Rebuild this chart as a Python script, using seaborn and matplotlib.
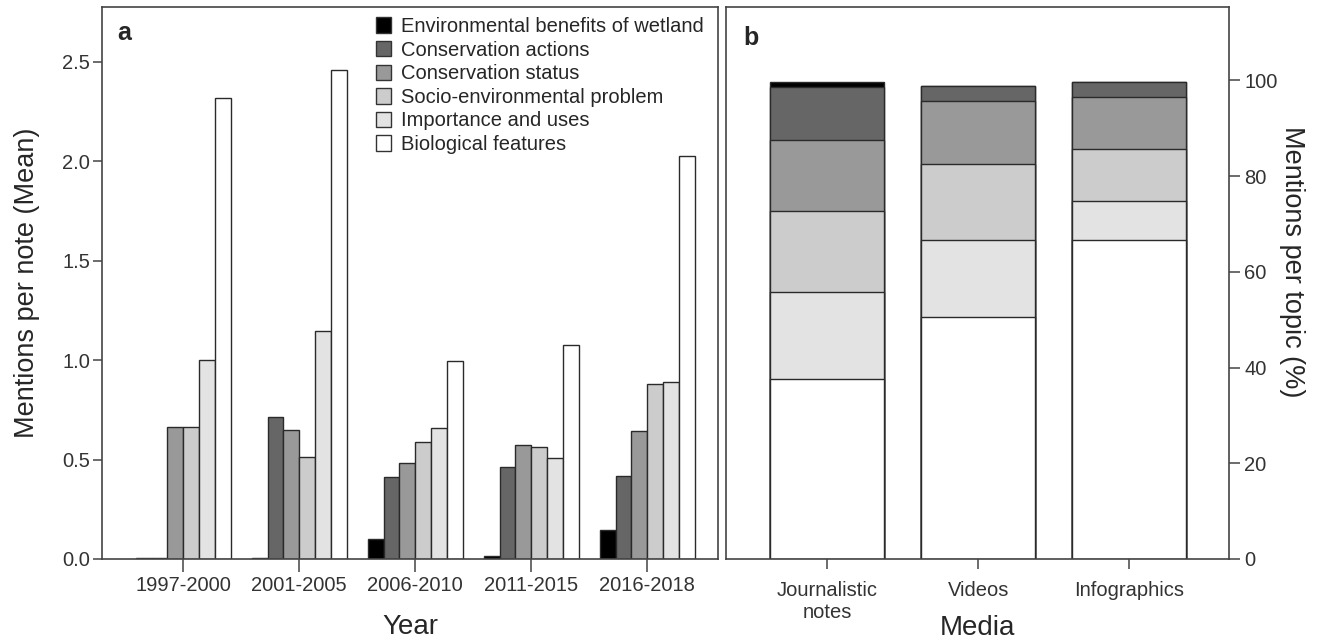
import numpy as np
import pandas as pd
import matplotlib
matplotlib.use("Agg")
import matplotlib.pyplot as plt
from matplotlib.patches import Patch
import seaborn as sns

# ---- data -------------------------------------------------------------
periods = ["1997-2000", "2001-2005", "2006-2010", "2011-2015", "2016-2018"]
topics = [
    "Environmental benefits of wetland",
    "Conservation actions",
    "Conservation status",
    "Socio-environmental problem",
    "Importance and uses",
    "Biological features",
]
topic_colors = ["#000000", "#666666", "#999999", "#cccccc", "#e3e3e3", "#ffffff"]

# mean mentions per note, by period (panel a)
env_benefits = [0.005, 0.005, 0.100, 0.017, 0.144]
cons_actions = [0.005, 0.715, 0.410, 0.465, 0.415]
cons_status = [0.665, 0.648, 0.485, 0.575, 0.642]
socio_problem = [0.665, 0.515, 0.590, 0.562, 0.878]
importance_uses = [1.000, 1.148, 0.660, 0.507, 0.889]
bio_features = [2.320, 2.456, 0.993, 1.075, 2.026]

# share of mentions per topic by media type, % (panel b)
media = ["Journalistic\nnotes", "Videos", "Infographics"]
pct_env_benefits = [1.1, 0.0, 0.0]
pct_cons_actions = [11.0, 3.2, 3.0]
pct_cons_status = [14.9, 13.0, 11.0]
pct_socio_problem = [16.9, 15.9, 10.9]
pct_importance_uses = [18.0, 16.1, 8.0]
pct_bio_features = [37.7, 50.6, 66.7]

# ---- style ------------------------------------------------------------
sns.set_style("ticks")
plt.rcParams["font.family"] = ["Liberation Sans", "DejaVu Sans"]
plt.rcParams["axes.edgecolor"] = "#444444"
plt.rcParams["axes.linewidth"] = 1.2
plt.rcParams["xtick.color"] = "#444444"
plt.rcParams["ytick.color"] = "#444444"
plt.rcParams["xtick.labelcolor"] = "#333333"
plt.rcParams["ytick.labelcolor"] = "#333333"

TICK_FS = 14.5
LABEL_FS = 19.5
EDGE = "#2a2a2a"

fig = plt.figure(figsize=(13.32, 6.39), dpi=100)
ax_a = fig.add_axes([0.0766, 0.1252, 0.4625, 0.8638])
ax_b = fig.add_axes([0.5450, 0.1252, 0.3776, 0.8638])

# ---- panel a: grouped bars ---------------------------------------------
series_a = [env_benefits, cons_actions, cons_status, socio_problem,
            importance_uses, bio_features]
df_a = pd.DataFrame({
    "period": np.repeat([periods], len(topics), axis=0).ravel(),
    "topic": np.repeat(topics, len(periods)),
    "mean": np.concatenate(series_a),
})
sns.barplot(data=df_a, x="period", y="mean", hue="topic",
            order=periods, hue_order=topics, palette=topic_colors,
            saturation=1, width=0.82, edgecolor=EDGE, linewidth=1.0,
            errorbar=None, legend=False, ax=ax_a)

ax_a.set_xlim(-0.70, 4.61)
ax_a.set_ylim(0, 2.775)
ax_a.set_yticks([0.0, 0.5, 1.0, 1.5, 2.0, 2.5])
ax_a.set_yticklabels(["0.0", "0.5", "1.0", "1.5", "2.0", "2.5"])
ax_a.tick_params(axis="x", length=9.5, width=1.1, pad=3, labelsize=TICK_FS)
ax_a.tick_params(axis="y", length=6.5, width=1.1, pad=2, labelsize=TICK_FS)
ax_a.set_xlabel("Year", fontsize=LABEL_FS + 0.5, labelpad=13.5)
ax_a.set_ylabel("Mentions per note (Mean)", fontsize=LABEL_FS, labelpad=16)
for side in ["top", "right", "left", "bottom"]:
    ax_a.spines[side].set_visible(True)

handles = [Patch(facecolor=c, edgecolor="#333333", linewidth=1.0, label=t)
           for c, t in zip(topic_colors, topics)]
ax_a.legend(handles=handles, loc="upper left", bbox_to_anchor=(0.445, 0.982),
            frameon=False, fontsize=TICK_FS, borderpad=0, borderaxespad=0,
            handlelength=0.75, handleheight=0.8, handletextpad=0.5,
            labelspacing=0.23)
ax_a.text(0.024, 0.975, "a", transform=ax_a.transAxes, fontsize=18,
          fontweight="bold", va="top", ha="left")

# ---- panel b: stacked percentage bars -----------------------------------
# stack from the bottom (biological features) upward
stack_series = [pct_bio_features, pct_importance_uses, pct_socio_problem,
                pct_cons_status, pct_cons_actions, pct_env_benefits]
stack_colors = topic_colors[::-1]
cumulative = np.cumsum(np.array(stack_series), axis=0)

# draw the tallest cumulative layer first so lower layers sit on top
for level in range(len(stack_series) - 1, -1, -1):
    df_b = pd.DataFrame({"media": media, "pct": cumulative[level]})
    sns.barplot(data=df_b, x="media", y="pct", order=media,
                color=stack_colors[level], saturation=1, width=0.755,
                edgecolor=EDGE, linewidth=1.0, errorbar=None, ax=ax_b)

ax_b.set_xlim(-0.67, 2.66)
ax_b.set_ylim(0, 115.3)
ax_b.yaxis.tick_right()
ax_b.yaxis.set_label_position("right")
ax_b.set_yticks([0, 20, 40, 60, 80, 100])
ax_b.tick_params(axis="x", length=7.5, width=1.1, pad=8, labelsize=TICK_FS)
ax_b.tick_params(axis="y", length=8, width=1.1, pad=3, labelsize=TICK_FS)
for lbl in ax_b.get_xticklabels():
    lbl.set_linespacing(1.2)
ax_b.set_xlabel("Media", fontsize=LABEL_FS + 0.5, labelpad=-5)
ax_b.set_ylabel("Mentions per topic (%)", fontsize=LABEL_FS, rotation=270)
ax_b.yaxis.set_label_coords(1.151, 0.538)
for side in ["top", "right", "left", "bottom"]:
    ax_b.spines[side].set_visible(True)
ax_b.text(0.035, 0.965, "b", transform=ax_b.transAxes, fontsize=18,
          fontweight="bold", va="top", ha="left")

fig.savefig("out.png", dpi=100)
